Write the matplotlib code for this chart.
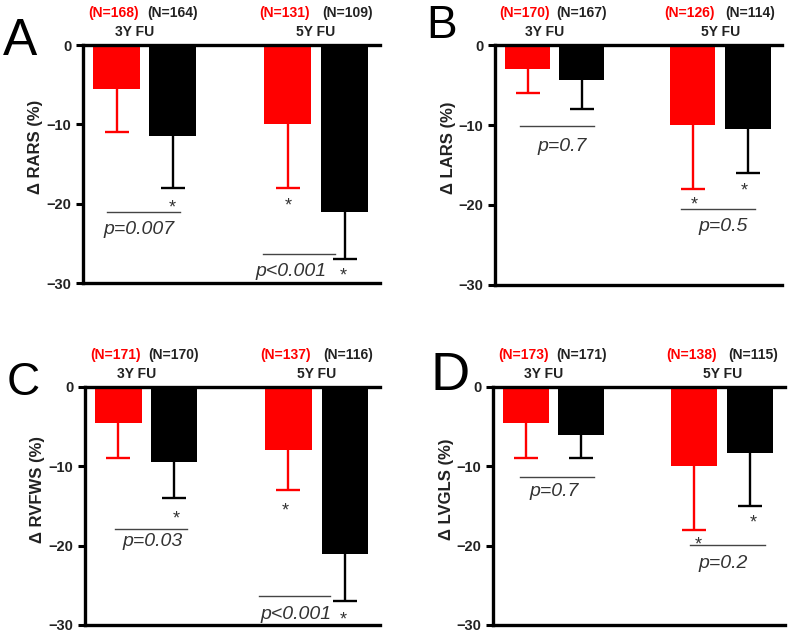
import matplotlib
matplotlib.use("Agg")
import matplotlib.pyplot as plt

plt.rcParams["font.family"] = ["Liberation Sans", "DejaVu Sans"]

# ---- data (mean change, lower error length) ----
groups = ["3Y FU", "5Y FU"]
panels = ["A", "B", "C", "D"]
ylabels = ["\u0394 RARS (%)", "\u0394 LARS (%)", "\u0394 RVFWS (%)", "\u0394 LVGLS (%)"]

# order per panel: red 3Y, black 3Y, red 5Y, black 5Y
rars_mean = [-5.5, -11.5, -10.0, -21.0]
rars_err = [5.5, 6.5, 8.0, 6.0]
lars_mean = [-3.0, -4.4, -10.0, -10.5]
lars_err = [3.0, 3.6, 8.0, 5.5]
rvfws_mean = [-4.5, -9.5, -8.0, -21.0]
rvfws_err = [4.5, 4.5, 5.0, 6.0]
lvgls_mean = [-4.5, -6.0, -10.0, -8.3]
lvgls_err = [4.5, 3.0, 8.0, 6.7]

n_red = [["168", "131"], ["170", "126"], ["171", "137"], ["173", "138"]]
n_black = [["164", "109"], ["167", "114"], ["170", "116"], ["171", "115"]]
pvals = [["p=0.007", "p<0.001"], ["p=0.7", "p=0.5"],
         ["p=0.03", "p<0.001"], ["p=0.7", "p=0.2"]]

means = [rars_mean, lars_mean, rvfws_mean, lvgls_mean]
errs = [rars_err, lars_err, rvfws_err, lvgls_err]

# ---- layout ----
xpos = [0.6, 1.6, 3.65, 4.67]
colors = ["#ff0000", "#000000", "#ff0000", "#000000"]
axes_rect = [[0.105, 0.5536, 0.376, 0.3754],
             [0.6266, 0.5505, 0.3633, 0.3785],
             [0.1076, 0.0142, 0.3734, 0.3754],
             [0.624, 0.0142, 0.3697, 0.3754]]
letter_pos = [(0.004, 0.913, 37), (0.540, 0.940, 33),
              (0.008, 0.377, 33), (0.545, 0.385, 39)]
# significance stars (x, y) per panel
stars = [[(1.59, -20.5), (3.66, -20.3), (4.64, -29.1)],
         [(3.67, -20.0), (4.61, -18.2)],
         [(1.64, -16.6), (3.59, -15.6), (4.64, -29.4)],
         [(3.73, -19.9), (4.73, -17.1)]]
# p lines (x0, x1, y) and p text (x, y)
plines = [[(0.43, 1.73, -21.1), (3.21, 4.50, -26.4)],
          [(0.46, 1.83, -10.1), (3.44, 4.80, -20.5)],
          [(0.54, 1.84, -17.9), (3.12, 4.41, -26.4)],
          [(0.49, 1.84, -11.3), (3.58, 4.93, -19.9)]]
ptexts = [[(1.0, -23.3), (3.72, -28.6)],
          [(1.24, -12.7), (4.22, -22.7)],
          [(1.21, -19.5), (3.79, -28.7)],
          [(1.11, -13.2), (4.18, -22.2)]]

fig = plt.figure(figsize=(7.9, 6.34), dpi=100)

for i in range(4):
    ax = fig.add_axes(axes_rect[i])
    ax.bar(xpos, means[i], width=0.84, color=colors, zorder=2)
    for x, m, e, c in zip(xpos, means[i], errs[i], colors):
        # one-sided (downward) error bar with a cap only at the far end
        ax.errorbar(x, m, yerr=[[e], [0]], fmt="none", ecolor=c,
                    elinewidth=1.7, capsize=0, zorder=1)
        ax.plot(x, m - e, marker="_", markersize=17, markeredgewidth=1.7,
                color=c, zorder=1)

    ax.set_xlim(0, 5.3)
    ax.set_ylim(-30, 0)
    ax.set_yticks([0, -10, -20, -30])
    ax.set_xticks([])
    ax.spines["right"].set_visible(False)
    for s in ["left", "top", "bottom"]:
        ax.spines[s].set_linewidth(2.4)
    ax.tick_params(axis="y", direction="out", length=5, width=2.2,
                   labelsize=10.5, labelcolor="#222222")
    for lab in ax.get_yticklabels():
        lab.set_fontweight("bold")
    ax.set_ylabel(ylabels[i], fontsize=12, fontweight="bold", color="#222222")
    ax.yaxis.set_label_coords(-0.135, 0.57)

    # header labels
    for g in range(2):
        xr, xb = (0.55, 1.6) if g == 0 else (3.6, 4.72)
        xf = 0.92 if g == 0 else 4.16
        ax.text(xr, 4.0, "(N=%s)" % n_red[i][g], color="#ff0000",
                fontsize=10, fontweight="bold", ha="center", va="center",
                clip_on=False)
        ax.text(xb, 4.0, "(N=%s)" % n_black[i][g], color="#222222",
                fontsize=10, fontweight="bold", ha="center", va="center",
                clip_on=False)
        ax.text(xf, 1.6, groups[g], color="#222222", fontsize=10,
                fontweight="bold", ha="center", va="center", clip_on=False)

    for x, y in stars[i]:
        ax.text(x, y, "*", fontsize=13, color="#333333",
                ha="center", va="center")
    for (x0, x1, y), (tx, ty), p in zip(plines[i], ptexts[i], pvals[i]):
        ax.plot([x0, x1], [y, y], color="#444444", lw=1.0, clip_on=False)
        ax.text(tx, ty, p, fontsize=14, style="italic", color="#333333",
                ha="center", va="center")

    lx, ly, lsz = letter_pos[i]
    fig.text(lx, ly, panels[i], fontsize=lsz, color="black",
             ha="left", va="baseline")

fig.savefig("out.png", dpi=100)
